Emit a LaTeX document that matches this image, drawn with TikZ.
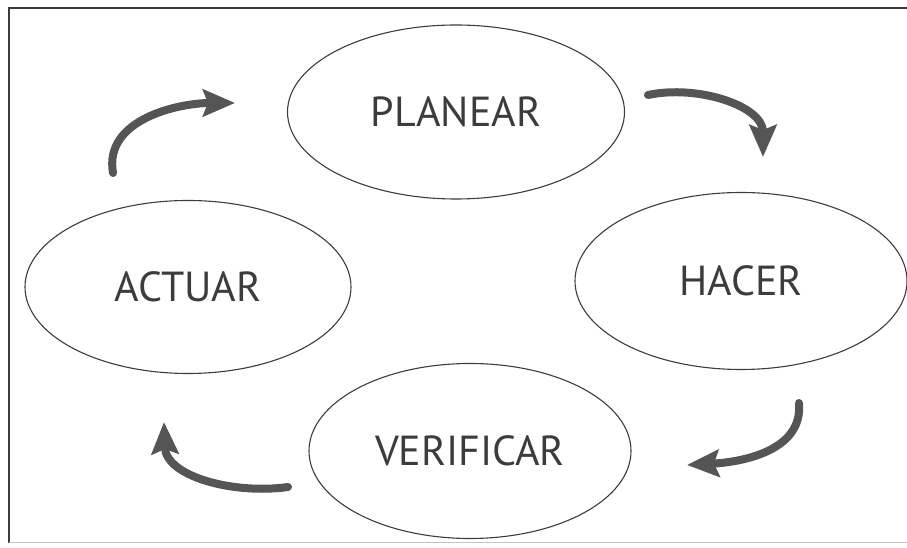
\documentclass[tikz,border=0pt]{standalone}
\usepackage{fontspec}
\setmainfont{PT Sans}
\usepackage{tikz}
\usetikzlibrary{%
  arrows.meta,%
  shapes.geometric%
}
\tikzset{>=latex}
\definecolor{tinta}{HTML}{3C3C3C}
\definecolor{flecha}{HTML}{555555}
\tikzset{
  fase/.style={draw=tinta,line width=1.1pt,ellipse,inner sep=0pt,
    text=tinta,font=\fontsize{42}{42}\selectfont},
  giro/.style={draw=flecha,line width=8pt,line cap=round,
    -{Stealth[length=32pt,width=27pt,inset=5pt]}},
  marco/.style={draw=tinta,line width=1.3pt}
}

\begin{document}
\begin{tikzpicture}[x=1pt,y=1pt]
    \useasboundingbox (0,0) rectangle (907,548);

    % marco
    \draw[marco] (907,540) -- (9,540) -- (9,5);
    \draw[marco,draw=tinta!30,line width=1pt] (9,5) -- (907,5);

    % fases del ciclo
    \node[fase,minimum width=337pt,minimum height=174pt] (planear) at (456,436) {PLANEAR};
    \node[fase,minimum width=332pt,minimum height=177pt] (hacer) at (741,267) {HACER};
    \node[fase,minimum width=322pt,minimum height=175pt] (verificar) at (470,97) {VERIFICAR};
    \node[fase,minimum width=326pt,minimum height=173pt] (actuar) at (188,261) {ACTUAR};

    % extremos de las flechas
    \coordinate (a1) at (113,375);
    \coordinate (b1) at (235,445);
    \coordinate (a2) at (648,453);
    \coordinate (b2) at (763,391);
    \coordinate (a3) at (799,145);
    \coordinate (b3) at (687,83);
    \coordinate (a4) at (288,61);
    \coordinate (b4) at (164,126);

    \draw[giro] (a1) to[out=100,in=180] (b1);
    \draw[giro] (a2) to[out=12,in=90] (b2);
    \draw[giro] (a3) to[out=-85,in=3] (b3);
    \draw[giro] (a4) to[out=188,in=-88] (b4);
\end{tikzpicture}
\end{document}
